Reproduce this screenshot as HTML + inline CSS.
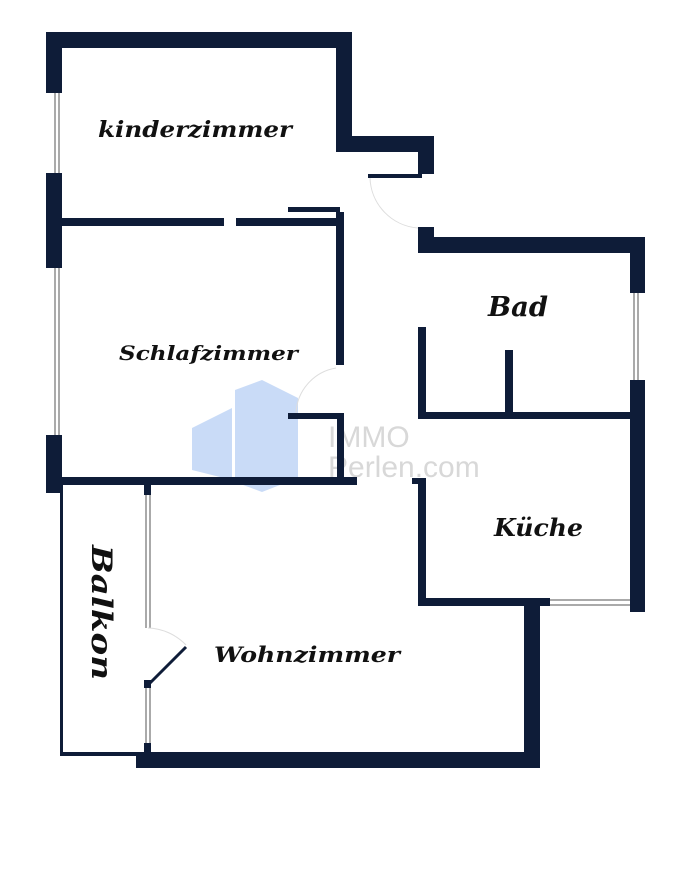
<!DOCTYPE html>
<html><head><meta charset="utf-8"><style>
html,body{margin:0;padding:0;background:#fff;}
svg{display:block}
.t{font-family:"DejaVu Serif","Liberation Serif",serif;font-weight:bold;font-style:italic;fill:#111;}
</style></head><body>
<svg width="690" height="872" viewBox="0 0 690 872" xmlns="http://www.w3.org/2000/svg">
<g fill="#c9dbf7">
<path d="M192 428 L232 408 L232 480 L192 470 Z"/>
<path d="M235 390 L262 380 L298 398 L298 478 L262 492 L235 482 Z"/>
</g>
<g font-family="Liberation Sans,sans-serif" fill="#d8d8d8" font-size="30">
<text x="328" y="447">IMMO</text><text x="328" y="477">Perlen.com</text>
</g>
<g fill="#0e1c38">
<rect x="46" y="32" width="306" height="16"/>
<rect x="46" y="32" width="16" height="61"/>
<rect x="46" y="173" width="16" height="95"/>
<rect x="46" y="435" width="16" height="58"/>
<rect x="336" y="32" width="16" height="120"/>
<rect x="336" y="136" width="98" height="16"/>
<rect x="418" y="136" width="16" height="38"/>
<rect x="368" y="174" width="54" height="4"/>
<rect x="62" y="218" width="162" height="8"/>
<rect x="236" y="218" width="106" height="8"/>
<rect x="288" y="207" width="52" height="5"/>
<rect x="336" y="212" width="8" height="153"/>
<rect x="288" y="413" width="52" height="6"/>
<rect x="337" y="413" width="7" height="68"/>
<rect x="46" y="477" width="311" height="8"/>
<rect x="418" y="227" width="16" height="26"/>
<rect x="418" y="237" width="227" height="16"/>
<rect x="630" y="237" width="15" height="56"/>
<rect x="630" y="380" width="15" height="232"/>
<rect x="418" y="327" width="8" height="92"/>
<rect x="505" y="350" width="8" height="66"/>
<rect x="418" y="412" width="212" height="7"/>
<rect x="412" y="478" width="14" height="6"/>
<rect x="418" y="478" width="8" height="128"/>
<rect x="418" y="598" width="132" height="8"/>
<rect x="524" y="598" width="16" height="170"/>
<rect x="136" y="752" width="404" height="16"/>
<rect x="60" y="485" width="3" height="271"/>
<rect x="60" y="752" width="80" height="4"/>
<rect x="144" y="485" width="7" height="10"/>
<rect x="144" y="743" width="7" height="12"/>
<rect x="144" y="680" width="7" height="8"/>
</g>
<g stroke="#555" stroke-width="1" fill="none">
<line x1="55" y1="93" x2="55" y2="173"/><line x1="59" y1="93" x2="59" y2="173"/>
<line x1="55" y1="268" x2="55" y2="435"/><line x1="59" y1="268" x2="59" y2="435"/>
<line x1="634" y1="293" x2="634" y2="380"/><line x1="638" y1="293" x2="638" y2="380"/>
<line x1="550" y1="600" x2="630" y2="600"/><line x1="550" y1="605" x2="630" y2="605"/>
<line x1="146" y1="495" x2="146" y2="628"/><line x1="150" y1="495" x2="150" y2="628"/>
<line x1="146" y1="688" x2="146" y2="743"/><line x1="150" y1="688" x2="150" y2="743"/>
</g>
<g stroke="#ddd" stroke-width="1" fill="none">
<path d="M370 178 A52 52 0 0 0 418 228"/>
<path d="M296 413 A48 48 0 0 1 336 368"/>
<path d="M148 628 A55 55 0 0 1 186 645"/>
</g>
<line x1="150" y1="683" x2="186" y2="647" stroke="#0e1c38" stroke-width="3"/>
<text class="t" x="98" y="137" font-size="22" textLength="194" lengthAdjust="spacingAndGlyphs">kinderzimmer</text>
<text class="t" x="119" y="360" font-size="20" textLength="179" lengthAdjust="spacingAndGlyphs">Schlafzimmer</text>
<text class="t" x="488" y="316" font-size="27" textLength="60" lengthAdjust="spacingAndGlyphs">Bad</text>
<text class="t" x="494" y="536" font-size="24" textLength="89" lengthAdjust="spacingAndGlyphs">Küche</text>
<text class="t" x="214" y="662" font-size="21" textLength="186" lengthAdjust="spacingAndGlyphs">Wohnzimmer</text>
<text class="t" x="0" y="0" font-size="28" textLength="135" lengthAdjust="spacingAndGlyphs" transform="translate(92,545) rotate(90)">Balkon</text>
</svg>
</body></html>
